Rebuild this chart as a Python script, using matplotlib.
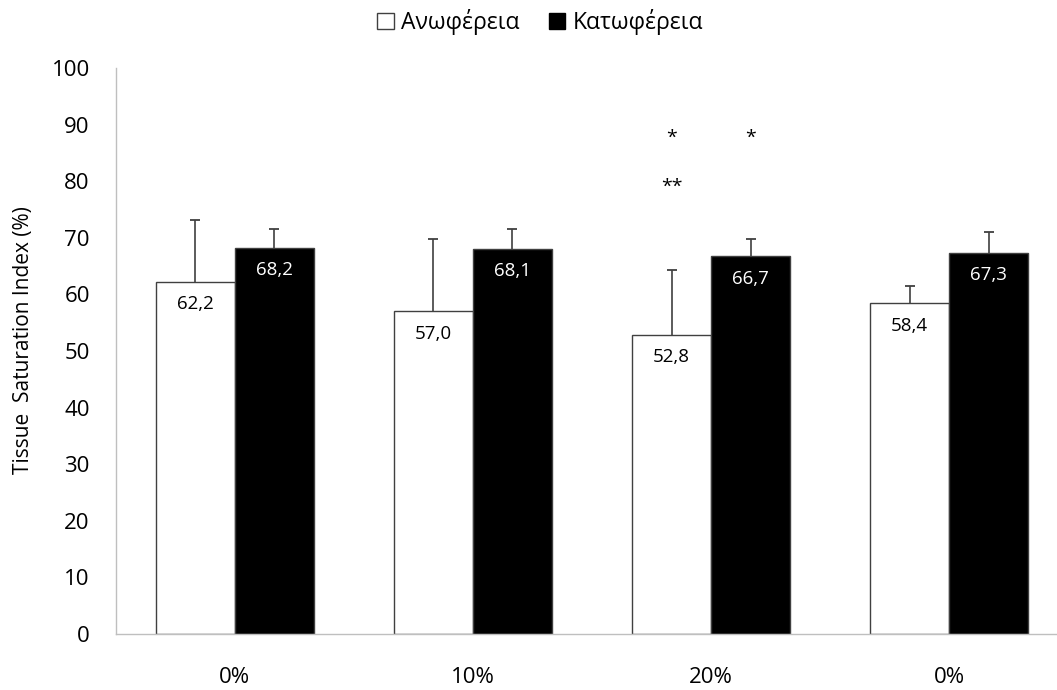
import matplotlib
matplotlib.use("Agg")
import matplotlib.pyplot as plt
import numpy as np
from matplotlib.patches import Patch

plt.rcParams['font.family'] = ['Open Sans', 'DejaVu Sans']

categories = ["0%", "10%", "20%", "0%"]
series_names = ["Ανωφέρεια", "Κατωφέρεια"]
upper = [62.2, 57.0, 52.8, 58.4]
lower = [68.2, 68.1, 66.7, 67.3]
upper_err = [10.9, 12.8, 11.5, 3.1]
lower_err = [3.4, 3.5, 3.1, 3.7]
y_ticks = [0, 10, 20, 30, 40, 50, 60, 70, 80, 90, 100]
y_label = "Tissue  Saturation Index (%)"

# significance marks: (group index, series index, y value, text)
marks = [(2, 0, 87.6, "*"), (2, 1, 87.6, "*"), (2, 0, 79.0, "**")]

W, H = 1057, 690
fig = plt.figure(figsize=(W / 100, H / 100), dpi=100)
ax = fig.add_axes([115.5 / W, 56 / H, (W - 115.5) / W, 566 / H])

x = np.arange(len(categories))
bw = 0.332
xu = x - bw / 2
xl = x + bw / 2

ax.bar(xu, upper, bw, color="white", edgecolor="#404040", linewidth=1.0, zorder=2)
ax.bar(xl, lower, bw, color="black", edgecolor="#404040", linewidth=1.0, zorder=2)

# one-sided (upper) error bars with a cap only at the top end
err_col = "#404040"
for xs, vals, errs in ((xu, upper, upper_err), (xl, lower, lower_err)):
    vals = np.asarray(vals)
    errs = np.asarray(errs)
    ax.vlines(xs, vals, vals + errs, colors=err_col, linewidth=1.2, zorder=1)
    ax.plot(xs, vals + errs, linestyle="none", marker="_", markersize=7,
            markeredgewidth=1.3, color=err_col, zorder=1)

def fmt(v):
    return f"{v:.1f}".replace(".", ",")

for xi, v in zip(xu, upper):
    ax.annotate(fmt(v), (xi, v), xytext=(0, -16), textcoords="offset points",
                ha="center", va="center", fontsize=13.5, color="black", zorder=3)
for xi, v in zip(xl, lower):
    ax.annotate(fmt(v), (xi, v), xytext=(0, -16), textcoords="offset points",
                ha="center", va="center", fontsize=13.5, color="white", zorder=3)

for g, s, yv, txt in marks:
    xp = xu[g] if s == 0 else xl[g]
    ax.text(xp, yv, txt, ha="center", va="center", fontsize=14)

ax.set_ylim(0, 100)
ax.set_xlim(-0.5, 3 + (W - 949.3) / 238.2)
ax.set_yticks(y_ticks)
ax.set_xticks(x)
ax.set_xticklabels(categories)
ax.tick_params(axis="both", length=0, labelsize=16, colors="black")
ax.tick_params(axis="y", pad=18.5)
ax.tick_params(axis="x", pad=24)

for side in ["top", "right"]:
    ax.spines[side].set_visible(False)
for side in ["left", "bottom"]:
    ax.spines[side].set_color("#bfbfbf")
    ax.spines[side].set_linewidth(1.0)

ax.set_ylabel(y_label, fontsize=15, va="center")
ax.yaxis.set_label_coords(-(115.5 - 24) / (W - 115.5), 0.52)

handles = [Patch(facecolor="white", edgecolor="#404040", linewidth=1.0),
           Patch(facecolor="black", edgecolor="black")]
fig.legend(handles, series_names, loc="center", bbox_to_anchor=(540 / W, 1 - 22 / H),
           ncol=2, frameon=False, fontsize=16.5,
           handlelength=0.72, handleheight=0.72, handletextpad=0.3, columnspacing=1.3)

fig.savefig("out.png", dpi=100)
